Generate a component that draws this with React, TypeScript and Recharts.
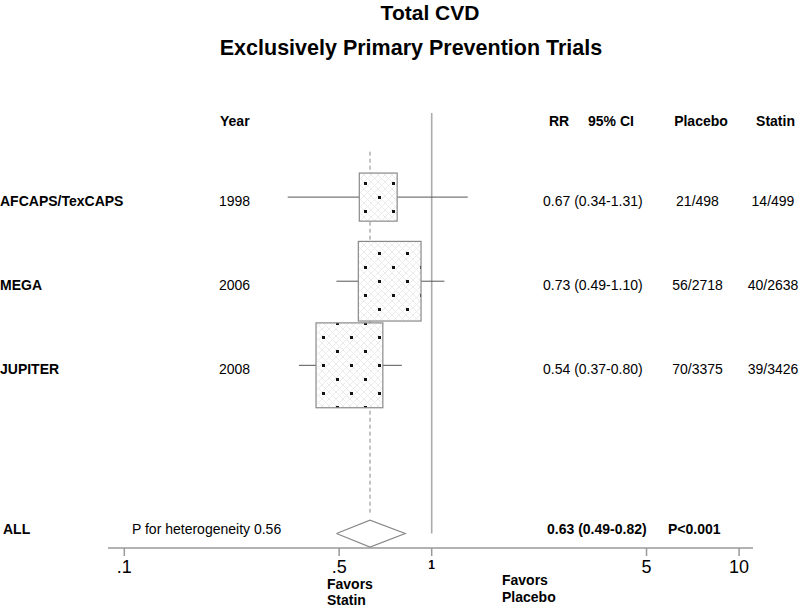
import React from "react";
import { ScatterChart, Scatter, XAxis, YAxis, ReferenceLine } from "recharts";

// trials
const studies = ["AFCAPS/TexCAPS", "MEGA", "JUPITER"];
const years = ["1998", "2006", "2008"];
const rr = [0.67, 0.73, 0.54];
const ciLow = [0.34, 0.49, 0.37];
const ciHigh = [1.31, 1.1, 0.8];
const placeboEvents = [21, 56, 70];
const placeboTotal = [498, 2718, 3375];
const statinEvents = [14, 40, 39];
const statinTotal = [499, 2638, 3426];

// pooled result
const pooledRR = 0.63;
const pooledLow = 0.49;
const pooledHigh = 0.82;
const heterogeneityP = "0.56";
const pooledP = "P<0.001";

const xTicks = [0.1, 0.5, 1, 5, 10];
const xTickLabels = [".1", ".5", "1", "5", "10"];

const HEADER_ROW = -1;
const POOLED_ROW = 4;
const rowTicks = [HEADER_ROW, 0, 1, 2, POOLED_ROW];

const FONT = "'Liberation Sans', Arial, sans-serif";

const studyPoints = studies.map((name, i) => ({
  name,
  x: rr[i],
  y: i,
  events: placeboEvents[i] + statinEvents[i],
}));

const diamondHalf = 0.16;
const diamondPoints = [
  { x: pooledLow, y: POOLED_ROW },
  { x: pooledRR, y: POOLED_ROW - diamondHalf },
  { x: pooledHigh, y: POOLED_ROW },
  { x: pooledRR, y: POOLED_ROW + diamondHalf },
  { x: pooledLow, y: POOLED_ROW },
];

const fmt = (v: number) => v.toFixed(2);

const WeightBox = (props: any) => {
  const { cx, cy, payload } = props;
  const w = 6.4 * Math.sqrt(payload.events);
  const h = w * 1.27;
  return (
    <rect
      x={cx - w / 2}
      y={cy - h / 2}
      width={w}
      height={h}
      fill="url(#dotFill)"
      stroke="#8a8a8a"
      strokeWidth={1.2}
    />
  );
};

const NoDot = () => <g />;

const LeftTick = (props: any) => {
  const { y, payload } = props;
  const v = payload.value;
  if (v === HEADER_ROW) {
    return (
      <text x={220} y={y + 13} fontSize={14} fontWeight="bold" fill="#000">
        Year
      </text>
    );
  }
  if (v === POOLED_ROW) {
    return (
      <g fontSize={14} fill="#000">
        <text x={3} y={y} fontWeight="bold">ALL</text>
        <text x={132} y={y}>P for heterogeneity {heterogeneityP}</text>
      </g>
    );
  }
  return (
    <g fontSize={14} fill="#000">
      <text x={0} y={y + 9} fontWeight="bold">{studies[v]}</text>
      <text x={219} y={y + 9}>{years[v]}</text>
    </g>
  );
};

const RightTick = (props: any) => {
  const { y, payload } = props;
  const v = payload.value;
  if (v === HEADER_ROW) {
    return (
      <g fontSize={14} fontWeight="bold" fill="#000">
        <text x={549} y={y + 13}>RR</text>
        <text x={588} y={y + 13}>95% CI</text>
        <text x={701} y={y + 13} textAnchor="middle">Placebo</text>
        <text x={775.5} y={y + 13} textAnchor="middle">Statin</text>
      </g>
    );
  }
  if (v === POOLED_ROW) {
    return (
      <g fontSize={14} fontWeight="bold" fill="#000">
        <text x={547} y={y}>
          {`${fmt(pooledRR)} (${fmt(pooledLow)}-${fmt(pooledHigh)})`}
        </text>
        <text x={668} y={y}>{pooledP}</text>
      </g>
    );
  }
  return (
    <g fontSize={14} fill="#000">
      <text x={543} y={y + 9}>
        {`${fmt(rr[v])} (${fmt(ciLow[v])}-${fmt(ciHigh[v])})`}
      </text>
      <text x={697.5} y={y + 9} textAnchor="middle">
        {`${placeboEvents[v]}/${placeboTotal[v]}`}
      </text>
      <text x={773} y={y + 9} textAnchor="middle">
        {`${statinEvents[v]}/${statinTotal[v]}`}
      </text>
    </g>
  );
};

const XTick = (props: any) => {
  const { x, payload } = props;
  const i = xTicks.indexOf(payload.value);
  const isOne = payload.value === 1;
  return (
    <text
      x={x}
      y={isOne ? 569 : 573}
      textAnchor="middle"
      fontSize={isOne ? 12 : 18}
      fontWeight={isOne ? "bold" : "normal"}
      fill="#000"
    >
      {xTickLabels[i]}
    </text>
  );
};

export default function App() {
  return (
    <div style={{ position: "absolute", left: 0, top: 0, width: 800, height: 608, background: "#fff" }}>
      <ScatterChart
        width={800}
        height={608}
        margin={{ top: 113, right: 0, bottom: 0, left: 0 }}
        style={{ fontFamily: FONT }}
      >
        <defs>
          <pattern id="dotFill" patternUnits="userSpaceOnUse" width={28} height={28}>
            <rect width={28} height={28} fill="#fff" />
            <path
              d="M0,7 L7,0 M0,14 L14,0 M0,21 L21,0 M0,28 L28,0 M7,28 L28,7 M14,28 L28,14 M21,28 L28,21 M0,21 L7,28 M0,14 L14,28 M0,7 L21,28 M0,0 L28,28 M7,0 L28,21 M14,0 L28,14 M21,0 L28,7"
              stroke="#ebebeb"
              strokeWidth={1}
            />
            <rect x={0} y={14} width={3} height={3} fill="#111" />
            <rect x={14} y={0} width={3} height={3} fill="#111" />
          </pattern>
        </defs>

        <text x={430} y={20} textAnchor="middle" fontSize={21} fontWeight="bold" fill="#000">
          Total CVD
        </text>
        <text x={411} y={55} textAnchor="middle" fontSize={21.5} fontWeight="bold" fill="#000">
          Exclusively Primary Prevention Trials
        </text>

        <XAxis
          dataKey="x"
          type="number"
          scale="log"
          domain={[0.0885, 11.1]}
          allowDataOverflow
          ticks={xTicks}
          interval={0}
          height={60}
          axisLine={{ stroke: "#999", strokeWidth: 1.5 }}
          tickLine={{ stroke: "#999", strokeWidth: 1.5 }}
          tickSize={8}
          tick={<XTick />}
        />
        <YAxis
          yAxisId="left"
          dataKey="y"
          type="number"
          reversed
          domain={[-1, 4.172]}
          allowDataOverflow
          ticks={rowTicks}
          interval={0}
          width={108}
          axisLine={false}
          tickLine={false}
          tick={<LeftTick />}
        />
        <YAxis
          yAxisId="right"
          orientation="right"
          dataKey="y"
          type="number"
          reversed
          domain={[-1, 4.172]}
          allowDataOverflow
          ticks={rowTicks}
          interval={0}
          width={47}
          axisLine={false}
          tickLine={false}
          tick={<RightTick />}
        />

        <ReferenceLine
          yAxisId="left"
          segment={[{ x: 1, y: -1 }, { x: 1, y: 4.0 }]}
          stroke="#aaa"
          strokeWidth={1.6}
          ifOverflow="visible"
        />
        <ReferenceLine
          yAxisId="left"
          segment={[{ x: pooledRR, y: -0.54 }, { x: pooledRR, y: 3.78 }]}
          stroke="#888"
          strokeDasharray="4 3"
          ifOverflow="visible"
        />

        <Scatter
          yAxisId="left"
          data={studyPoints}
          shape={<WeightBox />}
          isAnimationActive={false}
        />

        {studies.map((s, i) => (
          <ReferenceLine
            key={s}
            yAxisId="left"
            segment={[{ x: ciLow[i], y: i }, { x: ciHigh[i], y: i }]}
            stroke="#555"
            strokeWidth={1}
            ifOverflow="visible"
          />
        ))}

        <Scatter
          yAxisId="left"
          data={diamondPoints}
          line={{ stroke: "#888", strokeWidth: 1.2 }}
          lineType="joint"
          shape={<NoDot />}
          isAnimationActive={false}
        />

        <g fontSize={14} fontWeight="bold" fill="#000">
          <text x={327} y={589}>Favors</text>
          <text x={327} y={605}>Statin</text>
          <text x={502} y={585}>Favors</text>
          <text x={502} y={602}>Placebo</text>
        </g>
      </ScatterChart>
    </div>
  );
}
